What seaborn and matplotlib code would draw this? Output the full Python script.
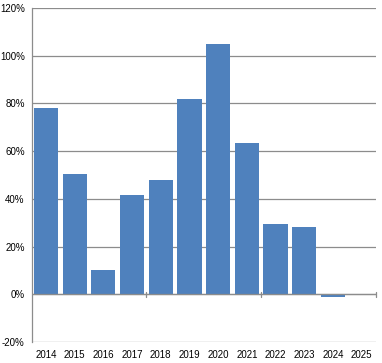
import matplotlib
matplotlib.use("Agg")
import matplotlib.pyplot as plt
import matplotlib.transforms as mtransforms
import seaborn as sns
import pandas as pd

years = ['2014', '2015', '2016', '2017', '2018', '2019',
         '2020', '2021', '2022', '2023', '2024', '2025']
growth = [0.78, 0.505, 0.10, 0.415, 0.48, 0.82,
          1.05, 0.635, 0.295, 0.28, -0.012, 0.0]

df = pd.DataFrame({'year': years, 'growth': growth})

sns.set_style('white')
plt.rcParams['font.family'] = ['Liberation Sans', 'DejaVu Sans']

fig, ax = plt.subplots(figsize=(3.82, 3.63), dpi=100)
fig.subplots_adjust(left=0.083, right=0.984, top=0.978, bottom=0.058)

sns.barplot(data=df, x='year', y='growth', color='#4F81BD', saturation=1,
            width=0.84, linewidth=0, ax=ax, zorder=3)

ax.set_ylim(-0.2, 1.2)
ax.set_xlim(-0.5, len(years) - 0.5)
ax.set_yticks([-0.2, 0, 0.2, 0.4, 0.6, 0.8, 1.0, 1.2])
ax.set_yticklabels([f'{v * 100:.0f}%' for v in ax.get_yticks()])
ax.grid(axis='y', color='#8C8C8C', linewidth=0.9, zorder=0)
ax.set_axisbelow(True)

for s in ['top', 'right', 'bottom']:
    ax.spines[s].set_visible(False)
ax.spines['left'].set_color('#8C8C8C')
ax.spines['left'].set_linewidth(0.9)

ax.tick_params(axis='y', length=3, color='#8C8C8C', labelsize=7, pad=2,
               labelcolor='black')
ax.tick_params(axis='x', length=0, labelsize=7, pad=6, labelcolor='black')
ax.set_xlabel('')
ax.set_ylabel('')

# category axis drawn at zero with cross ticks every 4 categories
ax.axhline(0, color='#8C8C8C', linewidth=0.9, zorder=4)
trans = mtransforms.blended_transform_factory(ax.transData, ax.transAxes)
z = 0.2 / 1.4
for b in [3.5, 7.5, 11.5]:
    ax.plot([b, b], [z - 0.008, z + 0.008], color='#8C8C8C', linewidth=0.9,
            transform=trans, clip_on=False, zorder=4)

fig.savefig('out.png', dpi=100)
